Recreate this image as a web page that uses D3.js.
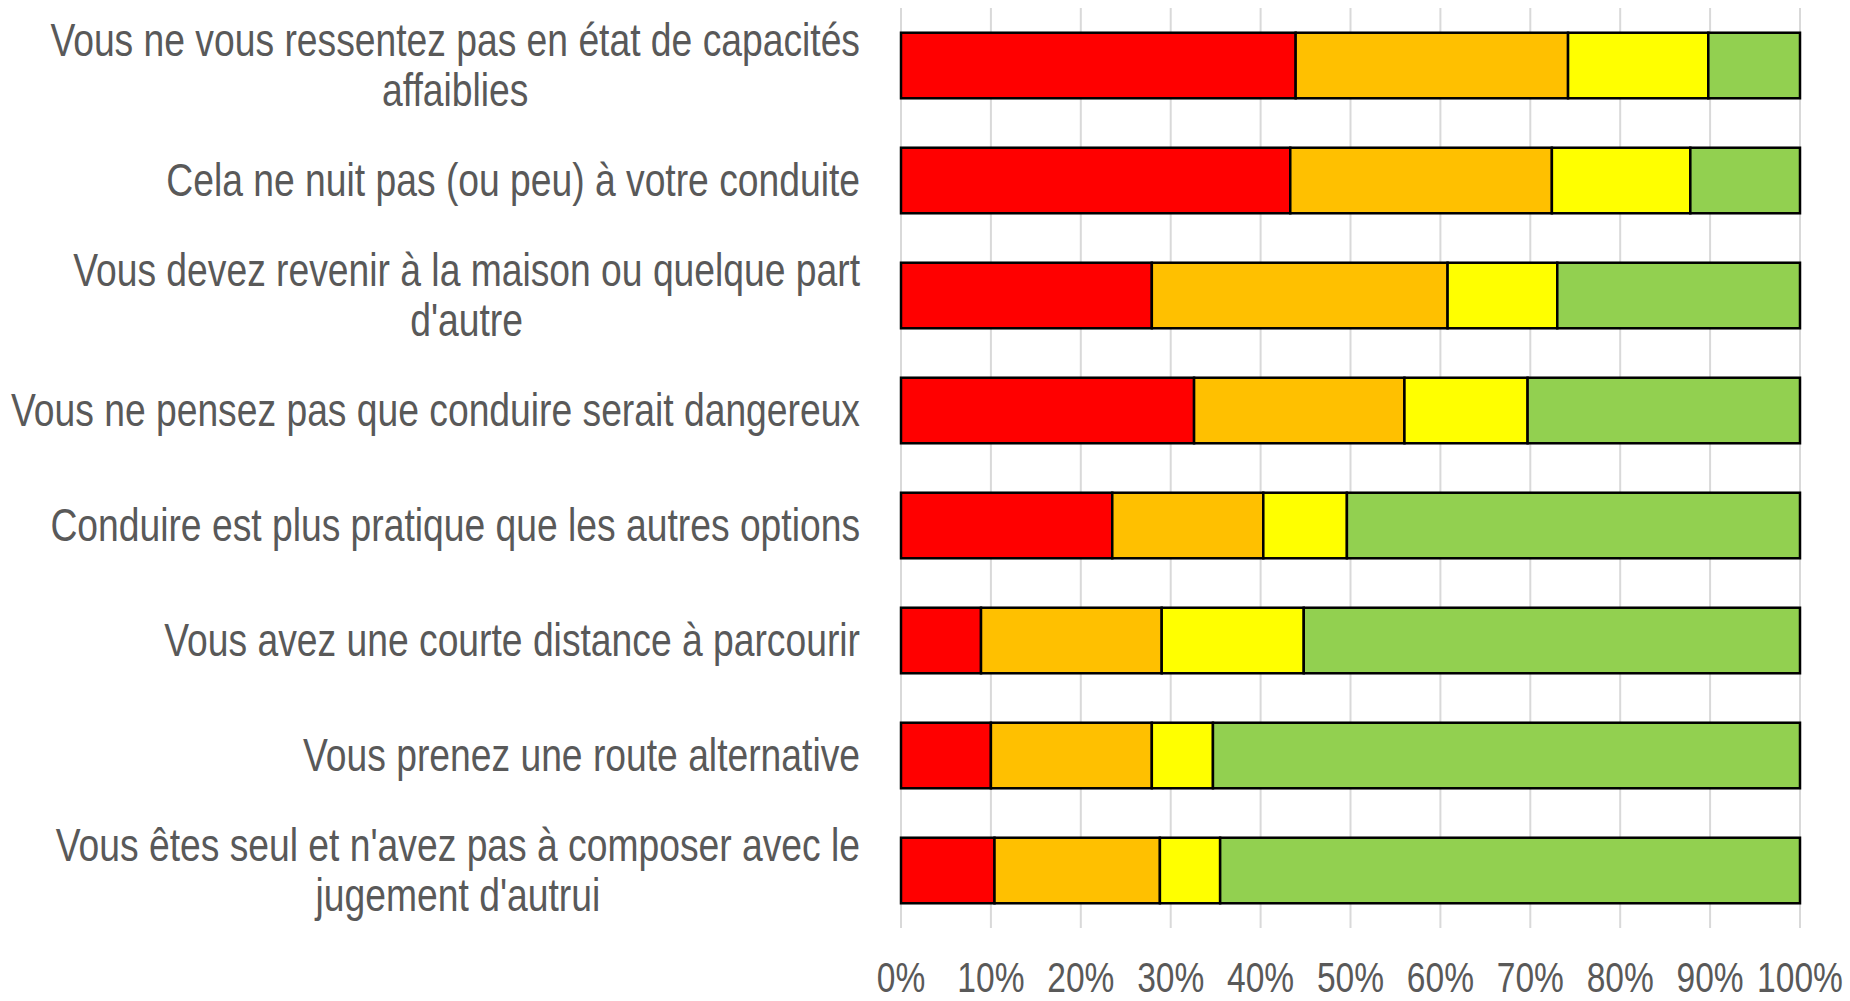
<!DOCTYPE html>
<html lang="fr">
<head>
<meta charset="utf-8">
<title>Barres empilées</title>
<script src="https://cdn.jsdelivr.net/npm/d3@7"></script>
<style>
  body { margin: 0; padding: 0; background: #fff; overflow: hidden; }
  .lbl { font-family: "Liberation Sans", Arial, sans-serif; fill: #595959; }
  .grid line { stroke: #d9d9d9; stroke-width: 2px; }
  .bar { stroke: #000; stroke-width: 2.5px; }
</style>
</head>
<body>
<script>
// categories, top to bottom
var categories = [
  "Vous ne vous ressentez pas en état de capacités\naffaiblies",
  "Cela ne nuit pas (ou peu) à votre conduite",
  "Vous devez revenir à la maison ou quelque part\nd'autre",
  "Vous ne pensez pas que conduire serait dangereux",
  "Conduire est plus pratique que les autres options",
  "Vous avez une courte distance à parcourir",
  "Vous prenez une route alternative",
  "Vous êtes seul et n'avez pas à composer avec le\njugement d'autrui"
];
var seriesNames = ["s1", "s2", "s3", "s4"];
var seriesColors = ["#ff0000", "#ffc000", "#ffff00", "#92d050"];
// percentages per series
var s1 = [43.9, 43.3, 27.9, 32.6, 23.5, 8.9, 10.0, 10.4];
var s2 = [30.3, 29.1, 32.9, 23.4, 16.8, 20.1, 17.9, 18.4];
var s3 = [15.6, 15.4, 12.2, 13.7, 9.3, 15.8, 6.8, 6.7];
var s4 = [10.2, 12.2, 27.0, 30.3, 50.4, 55.2, 65.3, 64.5];
var xTicks = [0, 10, 20, 30, 40, 50, 60, 70, 80, 90, 100];

var W = 1850, H = 1001;
var svg = d3.select("body").append("svg")
    .attr("width", W)
    .attr("height", H);

var x = d3.scaleLinear().domain([0, 100]).range([901, 1800]);
var y = d3.scaleBand().domain(d3.range(categories.length)).range([8, 928]).paddingInner(0.43).paddingOuter(0.215);

// gridlines
svg.append("g").attr("class", "grid")
  .selectAll("line").data(xTicks).enter().append("line")
    .attr("x1", function(d){ return x(d); })
    .attr("x2", function(d){ return x(d); })
    .attr("y1", 8)
    .attr("y2", 928);

// stacked data
var rows = categories.map(function(c, i){
  return { s1: s1[i], s2: s2[i], s3: s3[i], s4: s4[i], idx: i };
});
var stack = d3.stack().keys(seriesNames)(rows);

stack.forEach(function(layer, k){
  svg.append("g").selectAll("rect").data(layer).enter().append("rect")
    .attr("class", "bar")
    .attr("fill", seriesColors[k])
    .attr("x", function(d){ return x(d[0]); })
    .attr("width", function(d){ return x(d[1]) - x(d[0]); })
    .attr("y", function(d){ return y(d.data.idx); })
    .attr("height", y.bandwidth());
});

// narrow look: squeeze Liberation Sans horizontally
var labelRight = 860, lh = 50;

function narrowText(px, py, str, fs, sx){
  var g = svg.append("g").attr("transform", "translate(" + px + "," + py + ") scale(" + sx + ",1)");
  var t = g.append("text").attr("class", "lbl")
    .attr("font-size", fs)
    .attr("text-anchor", "middle")
    .attr("dominant-baseline", "central")
    .text(str);
  return { g: g, t: t };
}

// category labels (right aligned block, lines centred on each other)
var catFs = 46, catSx = 0.81;
categories.forEach(function(c, i){
  var lines = c.split("\n");
  var cy = y(i) + y.bandwidth() / 2;
  var items = lines.map(function(l, j){
    return narrowText(0, 0, l, catFs, catSx);
  });
  var wmax = d3.max(items, function(it){ return it.t.node().getComputedTextLength(); }) * catSx;
  items.forEach(function(it, j){
    var ly = cy + (j - (lines.length - 1) / 2) * lh;
    it.g.attr("transform", "translate(" + (labelRight - wmax / 2) + "," + ly + ") scale(" + catSx + ",1)");
  });
});

// x tick labels
xTicks.forEach(function(d){
  narrowText(x(d), 977, d + "%", 43, 0.78);
});
</script>
</body>
</html>
